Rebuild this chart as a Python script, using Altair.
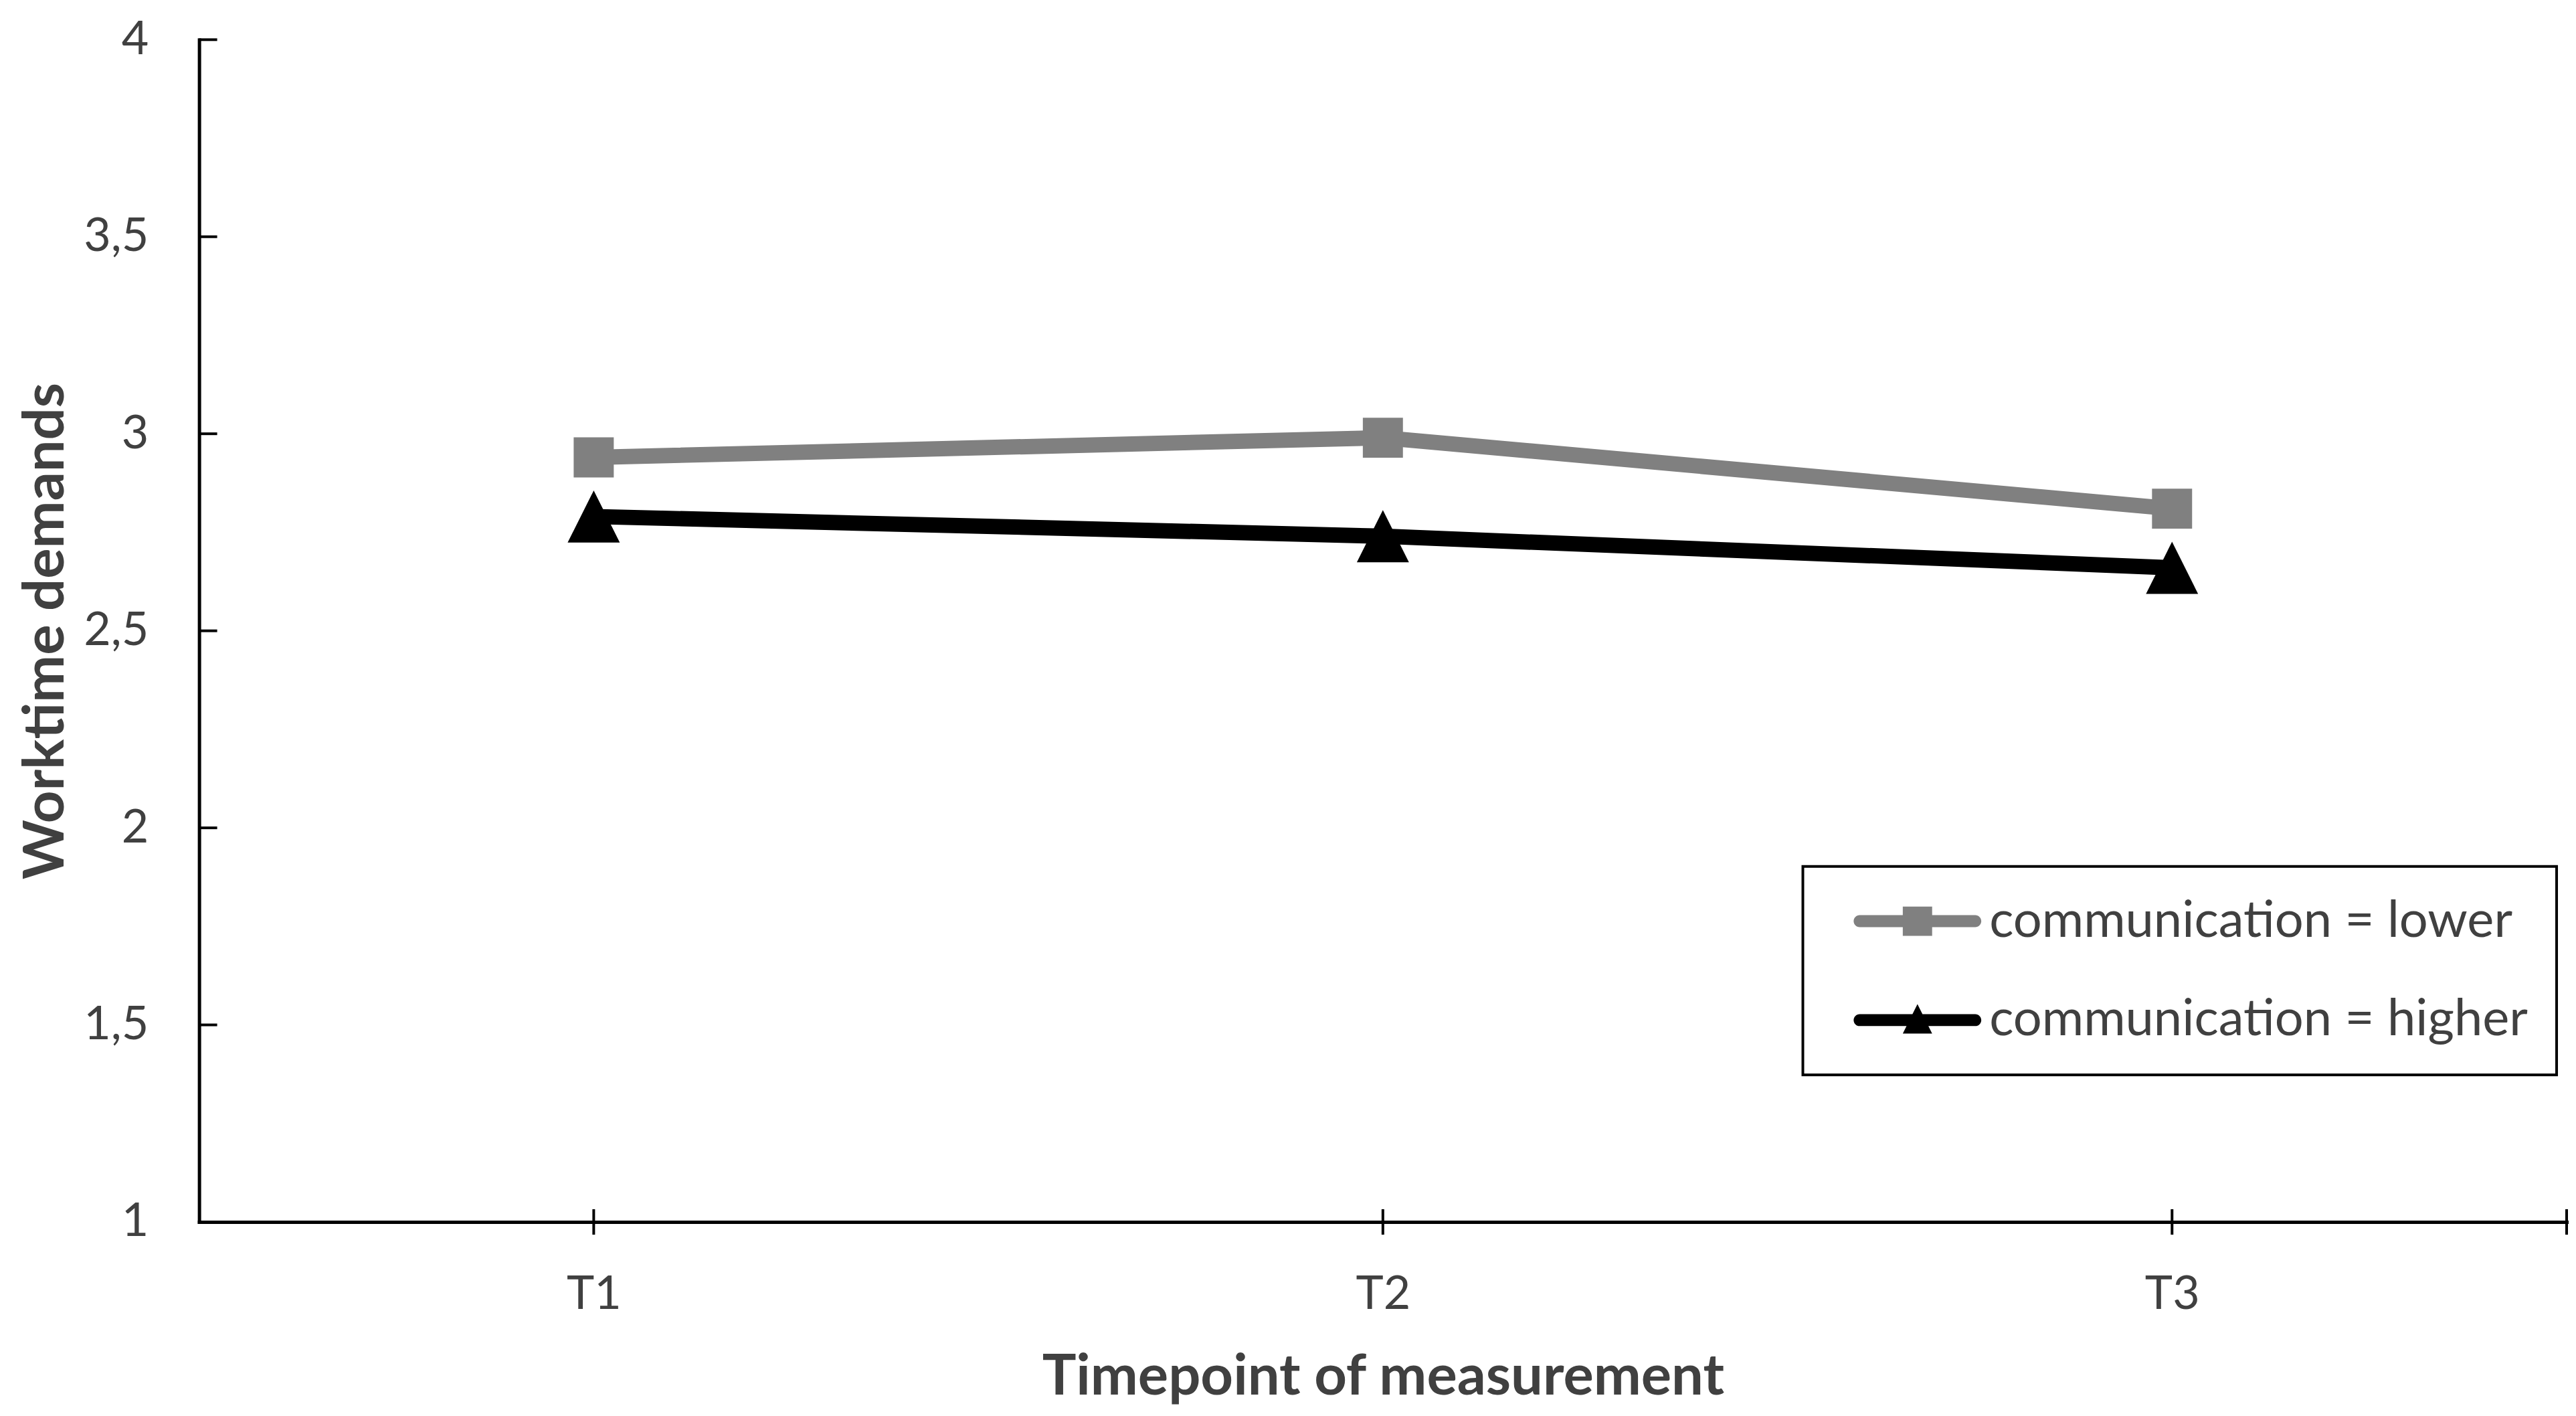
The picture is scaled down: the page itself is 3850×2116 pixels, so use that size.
import altair as alt
import pandas as pd

# ---- data ----
timepoints = ["T1", "T2", "T3"]
lower_values = [2.94, 2.99, 2.81]
higher_values = [2.79, 2.74, 2.66]
series_names = ["communication = lower", "communication = higher"]
series_colors = ["#808080", "#000000"]
y_tick_values = [1, 1.5, 2, 2.5, 3, 3.5, 4]

TOP = 50            # svg padding above the plot area
LEFT = 290          # svg padding left of the plot area
W = 3543
H = 1827 - 8 - TOP  # plot bottom lands at page y = 1827
FONT = "Lato"
TEXT = "#404040"

df = pd.DataFrame({
    "timepoint": timepoints * 2,
    "value": lower_values + higher_values,
    "series": [series_names[0]] * len(timepoints) + [series_names[1]] * len(timepoints),
})
ytick_df = pd.DataFrame({"value": y_tick_values})
xtick_df = pd.DataFrame({"timepoint": timepoints})
end_df = pd.DataFrame({"timepoint": timepoints[-1:]})

x_axis = alt.Axis(
    title="Timepoint of measurement", labelAngle=0, ticks=False, tickSize=0, grid=False,
    domainColor="black", domainWidth=5, domainCap="square",
    labelFont=FONT, labelFontSize=70, labelColor=TEXT, labelPadding=130,
    labelBaseline="alphabetic",
    titleFont=FONT, titleFontSize=85, titleFontWeight="bold", titleColor=TEXT,
    titleY=258, titleBaseline="alphabetic",
)
y_axis = alt.Axis(
    title="Worktime demands", values=y_tick_values,
    labelExpr="replace(toString(datum.value), '.', ',')",
    ticks=False, tickSize=0, grid=False,
    domainColor="black", domainWidth=5, domainCap="square",
    labelFont=FONT, labelFontSize=70, labelColor=TEXT, labelPadding=76,
    titleFont=FONT, titleFontSize=85, titleFontWeight="bold", titleColor=TEXT,
    titleX=-203, titleY=H / 2, titleBaseline="alphabetic", titleAngle=270,
)

x_scale = alt.Scale(type="point", domain=timepoints, padding=0.5)
y_scale = alt.Scale(domain=[1, 4], nice=False, zero=False)
x_enc = alt.X("timepoint:N", scale=x_scale, axis=x_axis, sort=timepoints)
y_enc = alt.Y("value:Q", scale=y_scale, axis=y_axis)
color_scale = alt.Scale(domain=series_names, range=series_colors)

legend = alt.Legend(
    title=None, orient="none", legendX=2698 - 8 - LEFT, legendY=1295 - 8 - TOP,
    strokeColor="black", padding=43, rowPadding=70, clipHeight=78,
    symbolOffset=33, labelOffset=12, symbolSize=36481, symbolStrokeWidth=0,
    symbolOpacity=1, labelFont=FONT, labelFontSize=76, labelColor=TEXT,
    labelLimit=3000,
)

# legend symbols: line with marker (unit coordinates, -1..1)
line_part = ("M-0.906,-0.094 L0.906,-0.094 A0.094,0.094 0 0 1 0.906,0.094 "
             "L-0.906,0.094 A0.094,0.094 0 0 1 -0.906,-0.094 Z ")
legend_lower = line_part + "M-0.23,-0.23 L0.23,-0.23 L0.23,0.23 L-0.23,0.23 Z"
legend_higher = line_part + "M0,-0.25 L0.23,0.21 L-0.23,0.21 Z"
triangle_path = "M0,-1 L1,1 L-1,1 Z"


def series_filter(i):
    return alt.datum.series == series_names[i]


line_lower = alt.Chart(df).transform_filter(series_filter(0)).mark_line(
    strokeWidth=23, strokeCap="round", strokeJoin="round", color=series_colors[0]
).encode(x=x_enc, y=y_enc)
squares = alt.Chart(df).transform_filter(series_filter(0)).mark_point(
    shape="square", size=3600, filled=True, opacity=1, color=series_colors[0]
).encode(x=x_enc, y=y_enc)
line_higher = alt.Chart(df).transform_filter(series_filter(1)).mark_line(
    strokeWidth=23, strokeCap="round", strokeJoin="round", color=series_colors[1]
).encode(x=x_enc, y=y_enc)
triangles = alt.Chart(df).transform_filter(series_filter(1)).mark_point(
    shape=triangle_path, size=6084, filled=True, opacity=1, color=series_colors[1]
).encode(x=x_enc, y=y_enc)

y_ticks = alt.Chart(ytick_df).mark_rule(color="black", strokeWidth=4).encode(
    y=y_enc, x=alt.value(0), x2=alt.value(27),
)
x_ticks = alt.Chart(xtick_df).mark_rule(color="black", strokeWidth=4).encode(
    x=x_enc, y=alt.value(H - 19), y2=alt.value(H + 19),
)
end_tick = alt.Chart(end_df).mark_rule(color="black", strokeWidth=4).encode(
    x=alt.value(W), y=alt.value(H - 19), y2=alt.value(H + 19),
)
legend_layer = alt.Chart(df).mark_point(filled=True, opacity=0).encode(
    x=x_enc, y=y_enc,
    color=alt.Color("series:N", scale=color_scale, legend=legend),
    shape=alt.Shape("series:N", scale=alt.Scale(domain=series_names,
                                                range=[legend_lower, legend_higher]),
                    legend=legend),
)

chart = alt.layer(
    legend_layer, line_lower, squares, line_higher, triangles, y_ticks, x_ticks, end_tick
).properties(
    width=W, height=H,
    padding={"left": LEFT, "top": TOP, "right": 6, "bottom": 2100 - TOP - H},
    autosize=alt.AutoSizeParams(type="none"),
    background="white",
).configure_view(strokeWidth=0).configure_legend(strokeWidth=4)

chart.save("out.html", embed_options={"renderer": "svg", "actions": False})
